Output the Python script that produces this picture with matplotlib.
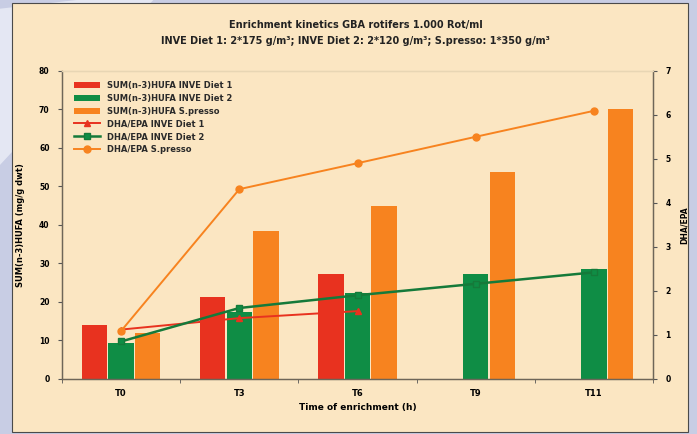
import numpy as np
import matplotlib.pyplot as plt
from matplotlib.patches import Rectangle, Polygon

categories = ["T0", "T3", "T6", "T9", "T11"]

# SUM(n-3)HUFA, mg/g dwt
hufa_diet1 = [14.1, 21.3, 27.2, np.nan, np.nan]
hufa_diet2 = [9.4, 17.3, 22.2, 27.3, 28.5]
hufa_spresso = [12.0, 38.4, 44.9, 53.8, 70.0]

# DHA/EPA ratio
dha_diet1 = [1.12, 1.38, 1.54, np.nan, np.nan]
dha_diet2 = [0.85, 1.61, 1.90, 2.16, 2.42]
dha_spresso = [1.09, 4.31, 4.90, 5.50, 6.09]

red = "#e8321f"
green = "#0f8d45"
orange = "#f7831f"
beige = "#fbe6c2"

fig = plt.figure(figsize=(6.97, 4.34), dpi=100)
fig.patch.set_facecolor("#c8cde4")

# light diagonal band in the top-left corner and the beige panel
fig.patches.append(Polygon([[0, 0.62], [0, 0.98], [0.11, 1.0], [0.22, 1.0]],
                           closed=True, transform=fig.transFigure,
                           facecolor="#e4e7f3", edgecolor="none", zorder=0))
fig.patches.append(Rectangle((0.017, 0.005), 0.97, 0.988, transform=fig.transFigure,
                             facecolor=beige, edgecolor="#4a4a4a", lw=0.8, zorder=1))

ax = fig.add_axes([0.089, 0.127, 0.848, 0.710])
ax.set_facecolor(beige)
ax.set_zorder(2)
ax2 = ax.twinx()
ax2.set_zorder(3)

x = np.arange(len(categories))
w = 0.215
ax.bar(x - 0.225, hufa_diet1, w, color=red, label="SUM(n-3)HUFA INVE Diet 1")
ax.bar(x, hufa_diet2, w, color=green, label="SUM(n-3)HUFA INVE Diet 2")
ax.bar(x + 0.225, hufa_spresso, w, color=orange, label="SUM(n-3)HUFA S.presso")

ax2.plot(x, dha_diet1, color=red, lw=1.4, marker="^", ms=5, label="DHA/EPA INVE Diet 1")
ax2.plot(x, dha_diet2, color="#157a3a", lw=1.8, marker="s", ms=5,
         mfc=green, label="DHA/EPA INVE Diet 2")
ax2.plot(x, dha_spresso, color=orange, lw=1.4, marker="o", ms=5, label="DHA/EPA S.presso")

ax.set_xlim(-0.5, 4.5)
ax.set_ylim(0, 80)
ax2.set_ylim(0, 7)
ax.set_yticks(range(0, 81, 10))
ax2.set_yticks(range(0, 8))
ax.set_xticks(x)
ax.set_xticklabels(categories)
ax.set_xticks(np.arange(-0.5, 5, 1), minor=True)
ax.tick_params(axis="x", which="major", length=0, pad=7)
ax.tick_params(axis="x", which="minor", length=3, color="#555555")

for a in (ax, ax2):
    a.tick_params(axis="y", labelsize=5.5, length=3, color="#555555", pad=6)
    for lab in a.get_yticklabels():
        lab.set_fontweight("bold")
    for s in a.spines.values():
        s.set_color("#6e6658")
        s.set_linewidth(0.9)
    a.spines["top"].set_color("#e8d6b4")
for lab in ax.get_xticklabels():
    lab.set_fontsize(6)
    lab.set_fontweight("bold")

ax.set_ylabel("SUM(n-3)HUFA (mg/g dwt)", fontsize=6, fontweight="bold", labelpad=10)
ax2.set_ylabel("DHA/EPA", fontsize=5.5, fontweight="bold", labelpad=6)
ax.set_xlabel("Time of enrichment (h)", fontsize=6.5, fontweight="bold", labelpad=4)

fig.text(0.51, 0.935, "Enrichment kinetics GBA rotifers 1.000 Rot/ml",
         ha="center", fontsize=7, fontweight="bold", color="#222222")
fig.text(0.51, 0.898, "INVE Diet 1: 2*175 g/m³; INVE Diet 2: 2*120 g/m³; S.presso: 1*350 g/m³",
         ha="center", fontsize=7, fontweight="bold", color="#222222")

h1, l1 = ax.get_legend_handles_labels()
h2, l2 = ax2.get_legend_handles_labels()
leg = ax2.legend(h1 + h2, l1 + l2, loc="upper left", bbox_to_anchor=(0.01, 0.985),
                 frameon=False, fontsize=6, handlelength=3.2, handleheight=0.8,
                 labelspacing=0.45, borderaxespad=0.3)
for t in leg.get_texts():
    t.set_fontweight("bold")
    t.set_color("#2a2a2a")

fig.savefig("out.png", dpi=100, facecolor=fig.get_facecolor())
